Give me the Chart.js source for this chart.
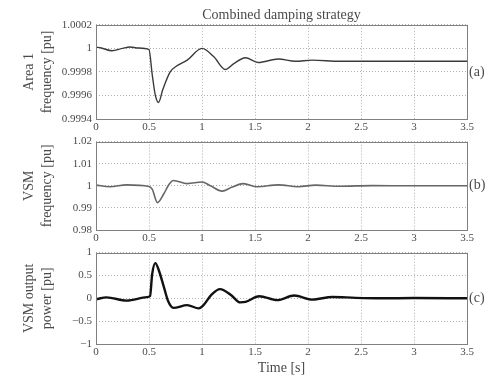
<!DOCTYPE html>
<html>
<head>
<meta charset="utf-8">
<script src="https://cdn.jsdelivr.net/npm/chart.js@4"></script>
<style>
  body { margin: 0; background: #fff; }
  canvas { position: absolute; left: 0; }
</style>
</head>
<body>
<canvas id="chart0" width="490" height="131" style="top:0px"></canvas>
<canvas id="chart1" width="490" height="111" style="top:131px"></canvas>
<canvas id="chart2" width="490" height="133" style="top:242px"></canvas>
<script>
// time axis
const timeTicks = [0, 0.5, 1, 1.5, 2, 2.5, 3, 3.5];
const timeTickLabels = ["0", "0.5", "1", "1.5", "2", "2.5", "3", "3.5"];

// (a) Area 1 frequency
const timeA = [0, 0.05, 0.15, 0.25, 0.32, 0.4, 0.5, 0.53, 0.56, 0.59, 0.63, 0.7, 0.76, 0.86, 1.0, 1.11, 1.22, 1.3, 1.41, 1.53, 1.72, 1.88, 2.04, 2.3, 2.6, 3.0, 3.5];
const freqA = [1.00001, 1.000003, 0.99998, 1.0, 1.000012, 1.000003, 0.99999, 0.99978, 0.99960, 0.99954, 0.99965, 0.99980, 0.99985, 0.99990, 1.0, 0.99993, 0.99982, 0.99987, 0.99992, 0.99988, 0.99991, 0.99989, 0.99990, 0.99989, 0.99989, 0.99989, 0.99989];
const ticksA = [0.9994, 0.9996, 0.9998, 1, 1.0002];
const labelsA = ["0.9994", "0.9996", "0.9998", "1", "1.0002"];

// (b) VSM frequency
const timeB = [0, 0.13, 0.29, 0.5, 0.53, 0.58, 0.64, 0.69, 0.73, 0.86, 1.0, 1.08, 1.19, 1.28, 1.39, 1.52, 1.72, 1.91, 2.07, 2.3, 2.6, 3.0, 3.5];
const freqB = [1.0003, 0.9996, 1.0004, 0.9997, 0.9985, 0.9924, 0.9964, 1.0007, 1.0024, 1.0010, 1.0017, 1.0, 0.9976, 0.9993, 1.0010, 0.9996, 1.0004, 0.9996, 1.0003, 0.9998, 1.0001, 1.0, 1.0];
const ticksB = [0.98, 0.99, 1, 1.01, 1.02];
const labelsB = ["0.98", "0.99", "1", "1.01", "1.02"];

// (c) VSM output power
const timeC = [0, 0.1, 0.29, 0.48, 0.51, 0.53, 0.56, 0.59, 0.64, 0.68, 0.73, 0.86, 0.97, 1.01, 1.09, 1.17, 1.27, 1.36, 1.41, 1.54, 1.71, 1.87, 2.04, 2.23, 2.45, 2.7, 3.0, 3.5];
const powerC = [-0.02, 0.02, -0.05, 0.025, 0.05, 0.53, 0.77, 0.63, 0.25, -0.06, -0.21, -0.15, -0.22, -0.16, 0.08, 0.20, 0.08, -0.09, -0.08, 0.045, -0.04, 0.06, -0.03, 0.03, 0.01, 0.0, 0.005, 0.0];
const ticksC = [-1, -0.5, 0, 0.5, 1];
const labelsC = ["\u22121", "\u22120.5", "0", "0.5", "1"];

const tags = ["(a)", "(b)", "(c)"];
const serif = "'Liberation Serif', 'DejaVu Serif', serif";
const textColor = "#4a4a4a";

function framePlugin(tag) {
  return {
    id: "frame",
    afterDraw(chart) {
      const c = chart.ctx;
      const a = chart.chartArea;
      c.save();
      c.strokeStyle = "#808080";
      c.lineWidth = 1;
      c.strokeRect(Math.round(a.left) + 0.5, Math.round(a.top) + 0.5,
        Math.round(a.right - a.left), Math.round(a.bottom - a.top));
      c.fillStyle = textColor;
      c.font = "14px " + serif;
      c.textBaseline = "middle";
      c.fillText(tag, a.right + 2, (a.top + a.bottom) / 2);
      c.restore();
    }
  };
}

function createChart(id, xs, ys, yTicks, yLabels, yTitle, lineColor, lineWidth, tag, extra) {
  const ctx = document.getElementById(id).getContext("2d");
  const points = xs.map((x, i) => ({ x: x, y: ys[i] }));
  return new Chart(ctx, {
    type: "line",
    data: {
      datasets: [{
        data: points,
        borderColor: lineColor,
        borderWidth: lineWidth,
        pointRadius: 0,
        cubicInterpolationMode: "monotone",
        fill: false
      }]
    },
    options: {
      responsive: false,
      animation: false,
      layout: { padding: { top: extra.padTop, right: 23, left: 0, bottom: 0 } },
      plugins: {
        legend: { display: false },
        tooltip: { enabled: false },
        title: extra.title ? {
          display: true,
          fullSize: false,
          text: extra.title,
          color: textColor,
          font: { family: serif, size: 14, weight: "normal" },
          padding: { top: 7, bottom: 1 }
        } : { display: false }
      },
      scales: {
        x: {
          type: "linear",
          min: 0,
          max: 3.5,
          afterBuildTicks: s => { s.ticks = timeTicks.map(v => ({ value: v })); },
          afterFit: s => { s.height = extra.xHeight; },
          ticks: {
            color: textColor,
            font: { family: serif, size: 11 },
            padding: 2,
            maxRotation: 0,
            callback: (v, i) => timeTickLabels[i]
          },
          grid: { color: "#b0b0b0", drawTicks: false },
          border: { display: false, dash: [1, 2] },
          title: extra.xTitle ? {
            display: true,
            text: extra.xTitle,
            color: textColor,
            font: { family: serif, size: 14, lineHeight: 1 },
            padding: { top: 0, bottom: 0 }
          } : { display: false }
        },
        y: {
          min: yTicks[0],
          max: yTicks[yTicks.length - 1],
          afterBuildTicks: s => { s.ticks = yTicks.map(v => ({ value: v })); },
          afterFit: s => { s.width = 96; },
          ticks: {
            color: textColor,
            font: { family: serif, size: 11 },
            padding: 4,
            callback: (v, i) => yLabels[i]
          },
          grid: { color: "#b0b0b0", drawTicks: false },
          border: { display: false, dash: [1, 2] },
          title: {
            display: true,
            text: yTitle,
            color: textColor,
            font: { family: serif, size: 14, lineHeight: 1.25 },
            padding: { top: 21, bottom: 0 }
          }
        }
      }
    },
    plugins: [framePlugin(tag)]
  });
}

createChart("chart0", timeA, freqA, ticksA, labelsA, ["Area 1", "frequency [pu]"], "#3a3a3a", 1.4, tags[0],
  { padTop: 0, xHeight: 12, title: "Combined damping strategy" });
createChart("chart1", timeB, freqB, ticksB, labelsB, ["VSM", "frequency [pu]"], "#666666", 1.6, tags[1],
  { padTop: 6, xHeight: 12 });
createChart("chart2", timeC, powerC, ticksC, labelsC, ["VSM output", "power [pu]"], "#111111", 2.4, tags[2],
  { padTop: 5, xHeight: 31, xTitle: "Time [s]" });
</script>
</body>
</html>
